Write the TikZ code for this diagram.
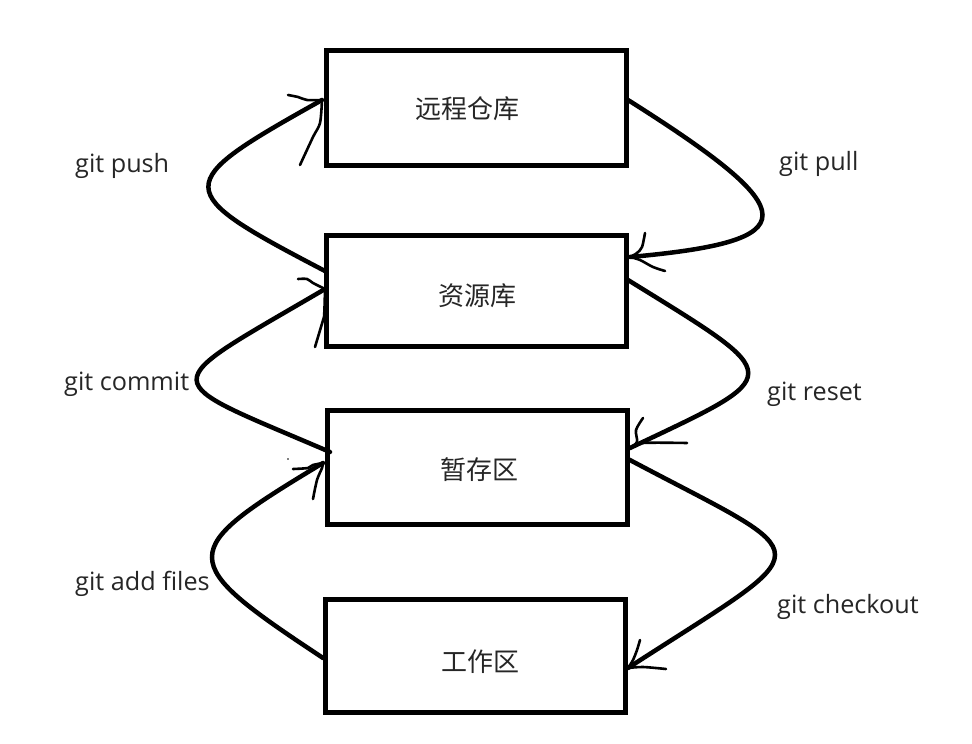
\documentclass[tikz,border=0pt]{standalone}
\usepackage{fontspec}
\setmainfont{Open Sans}
\newfontfamily\cjk{Noto Sans CJK SC}
\usetikzlibrary{calc}
\begin{document}
\begin{tikzpicture}[x=1pt,y=-1pt,
  box/.style={draw=black,line width=5pt,minimum width=300pt,outer sep=0pt,inner sep=0pt},
  cjklabel/.style={font=\cjk\fontsize{26}{29}\selectfont,text=black!85,inner sep=0pt},
  gitlabel/.style={font=\fontsize{25.2}{29}\selectfont,text=black!85,anchor=base west,inner sep=0pt},
  conn/.style={line width=4.5pt,line cap=round},
  barb/.style={line width=2.6pt,line cap=round,line join=round}]
\useasboundingbox (0,0) rectangle (972,744);
\fill[white] (0,0) rectangle (972,744);
% boxes
\node[box,minimum height=115pt] (b1) at (476.5,107.5) {};
\node[box,minimum height=111pt] (b2) at (476.5,290.5) {};
\node[box,minimum height=114pt] (b3) at (477,467) {};
\node[box,minimum height=113pt] (b4) at (475,655.5) {};
% box texts
\node[cjklabel] (t1) at (467,109) {远程仓库};
\node[cjklabel] (t2) at (477,296) {资源库};
\node[cjklabel] (t3) at (479,470) {暂存区};
\node[cjklabel] (t4) at (480,662) {工作区};
% connector ends
\coordinate (pushS) at ($(b2.west)+(-1.5,-19.5)$);
\coordinate (pushT) at ($(b1.west)+(-4.5,-7.5)$);
\coordinate (commitS) at ($(b3.west)+(3,-15)$);
\coordinate (commitT) at ($(b2.west)+(-1.5,-1.5)$);
\coordinate (addS) at ($(b4.west)+(-2,2.5)$);
\coordinate (addT) at ($(b3.west)+(-4,-4)$);
\coordinate (pullS) at ($(b1.east)+(1.5,-7.5)$);
\coordinate (pullT) at ($(b2.east)+(3.5,-33.5)$);
\coordinate (resetS) at ($(b2.east)+(1.5,-10.5)$);
\coordinate (resetT) at ($(b3.east)+(3,-19)$);
\coordinate (coS) at ($(b3.east)+(1,-8)$);
\coordinate (coT) at ($(b4.east)+(3,12.5)$);
% connectors
\draw[conn] (pushS) .. controls (170,190) and (170,185) .. (pushT);
\draw[conn] (commitS) .. controls (153,376) and (153,390) .. (commitT);
\draw[conn] (addS) .. controls (175,560) and (175,552) .. (addT);
\draw[conn] (pullS) .. controls (807,213) and (807,241) .. (pullT);
\draw[conn] (resetS) .. controls (788,379) and (788,373) .. (resetT);
\draw[conn] (coS) .. controls (824,563) and (824,541) .. (coT);
% arrow barbs
\draw[barb,shift={(pushT)}] plot[smooth] coordinates {(0,0) (-15,0) (-24,-3) (-34,-5)};
\draw[barb,shift={(pushT)}] plot[smooth] coordinates {(0,0) (-2,23) (-9,37) (-22,65)};
\draw[barb,shift={(commitT)}] plot[smooth] coordinates {(0,0) (-12,-6) (-18,-10) (-27,-10)};
\draw[barb,shift={(commitT)}] plot[smooth] coordinates {(0,0) (-1,28) (-4,38) (-10,58)};
\draw[barb,shift={(addT)}] plot[smooth] coordinates {(0,0) (-10,2) (-15,5) (-30,6)};
\draw[barb,shift={(addT)}] plot[smooth] coordinates {(0,0) (-1,5) (-6,17) (-10,36)};
\draw[barb,shift={(pullT)}] plot[smooth] coordinates {(0,0) (7,-4) (12,-10) (15,-24)};
\draw[barb,shift={(pullT)}] plot[smooth] coordinates {(0,0) (10,3) (23,10) (35,14)};
\draw[barb,shift={(resetT)}] plot[smooth] coordinates {(0,0) (7,-6) (6,-18) (13,-30)};
\draw[barb,shift={(resetT)}] plot[smooth] coordinates {(0,0) (13,-5) (57,-5)};
\draw[barb,shift={(coT)}] plot[smooth] coordinates {(0,0) (5,-8) (9,-18) (12,-28)};
\draw[barb,shift={(coT)}] plot[smooth] coordinates {(0,0) (15,-1) (38,1)};
\fill[black] (288,459) circle (0.8);
% labels
\node[gitlabel] (lpush) at (75,172) {git push};
\node[gitlabel] (lpull) at (779,170) {git pull};
\node[gitlabel] (lcommit) at (64,390) {git commit};
\node[gitlabel] (lreset) at (767,400) {git reset};
\node[gitlabel] (ladd) at (75,590) {git add files};
\node[gitlabel] (lco) at (777,613) {git checkout};
\end{tikzpicture}
\end{document}
